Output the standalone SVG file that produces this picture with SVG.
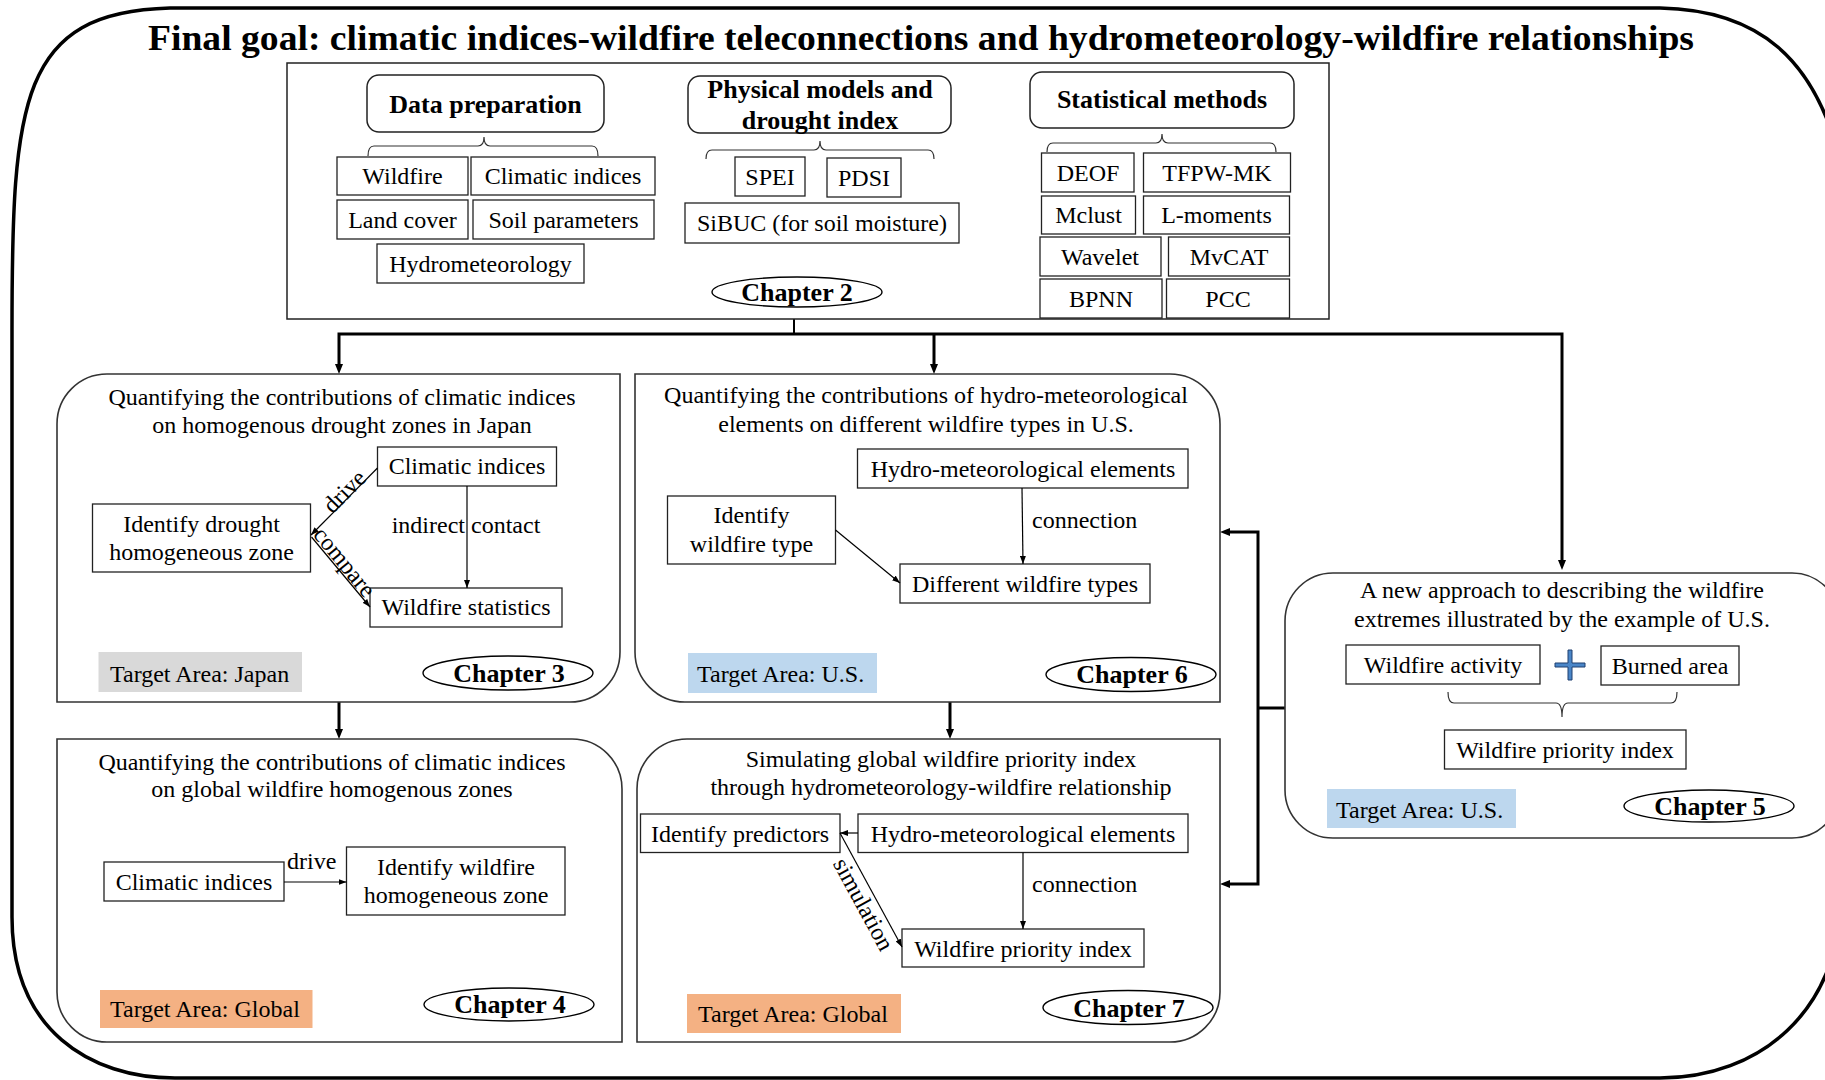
<svg xmlns="http://www.w3.org/2000/svg" width="1825" height="1080" viewBox="0 0 1825 1080">
<style>
text{font-family:'Liberation Serif','Times New Roman',serif;font-size:24px;fill:#000}
.m{text-anchor:middle}
.b{font-weight:bold;font-size:26px}
.bx{fill:#fff;stroke:#222;stroke-width:1.3}
.hd{fill:#fff;stroke:#222;stroke-width:1.5}
.ch{fill:#fff;stroke:#333;stroke-width:1.6}
.el{fill:#fff;stroke:#000;stroke-width:1.4}
.thick{fill:none;stroke:#000;stroke-width:3}
.thin{fill:none;stroke:#000;stroke-width:1.2}
.br{fill:none;stroke:#333;stroke-width:1.2}
</style>
<defs>
<marker id="ah" viewBox="0 0 10 8" refX="5" refY="4" markerWidth="10" markerHeight="8" markerUnits="userSpaceOnUse" orient="auto-start-reverse"><path d="M0,0 L10,4 L0,8 Z" fill="#000"/></marker>
<marker id="at" viewBox="0 0 8 6" refX="8" refY="3" markerWidth="8" markerHeight="6" markerUnits="userSpaceOnUse" orient="auto"><path d="M0,0 L8,3 L0,6 Z" fill="#000"/></marker>
</defs>
<rect width="1825" height="1080" fill="#fff"/>
<path d="M170,8 L1660,8 C1760,10 1815,60 1840,160 L1840,900 C1840,1010 1760,1078 1660,1078 L175,1078 C90,1078 12,1030 12,917 L12,330 C12,100 20,12 170,8 Z" fill="none" stroke="#000" stroke-width="3.5"/>
<text id="title" class="b m" x="921" y="50" style="font-size:36px" textLength="1546" lengthAdjust="spacingAndGlyphs">Final goal: climatic indices-wildfire teleconnections and hydrometeorology-wildfire relationships</text>

<g id="connectors">
<line class="thin" x1="794" y1="319" x2="794" y2="334" style="stroke-width:2"/>
<path class="thick" d="M339,369 V334 H1562 V565" marker-start="url(#ah)" marker-end="url(#ah)"/>
<path class="thick" d="M934,334 V369" marker-end="url(#ah)"/>
<path class="thick" d="M339,702 V734" marker-end="url(#ah)"/>
<path class="thick" d="M950,702 V734" marker-end="url(#ah)"/>
<path class="thick" d="M1225,532 H1258 V884 H1225" marker-start="url(#ah)" marker-end="url(#ah)"/>
<path class="thick" d="M1258,708 H1285"/>
</g>

<g id="chapter2">
<rect x="287" y="63" width="1042" height="256" fill="#fff" stroke="#222" stroke-width="1.5"/>
<rect class="hd" x="367" y="75" width="237" height="57" rx="12"/>
<text class="b m" x="485.5" y="113">Data preparation</text>
<rect class="hd" x="688" y="76" width="263" height="57" rx="12"/>
<text class="b m" x="820" y="98">Physical models and</text>
<text class="b m" x="820" y="129">drought index</text>
<rect class="hd" x="1030" y="72" width="264" height="56" rx="12"/>
<text class="b m" x="1162" y="108">Statistical methods</text>
<path class="br" d="M368,156 Q368,146 374,146 H478 Q484,146 484,137 Q484,146 490,146 H592 Q598,146 598,156"/>
<path class="br" d="M706,159 Q706,150 712,150 H814 Q820,150 820,141 Q820,150 826,150 H928 Q934,150 934,159"/>
<path class="br" d="M1047,152 Q1047,143 1053,143 H1156 Q1162,143 1162,134 Q1162,143 1168,143 H1270 Q1276,143 1276,152"/>
<rect class="bx" x="337" y="157" width="131" height="38"/><text class="m" x="402.5" y="184">Wildfire</text>
<rect class="bx" x="471" y="157" width="184" height="38"/><text class="m" x="563" y="184">Climatic indices</text>
<rect class="bx" x="337" y="200" width="131" height="39"/><text class="m" x="402.5" y="228">Land cover</text>
<rect class="bx" x="473" y="200" width="181" height="39"/><text class="m" x="563.5" y="228">Soil parameters</text>
<rect class="bx" x="377" y="244" width="207" height="39"/><text class="m" x="480.5" y="272">Hydrometeorology</text>
<rect class="bx" x="735" y="157" width="70" height="39"/><text class="m" x="770" y="185">SPEI</text>
<rect class="bx" x="827" y="158" width="74" height="39"/><text class="m" x="864" y="186">PDSI</text>
<rect class="bx" x="685" y="203" width="274" height="40"/><text class="m" x="822" y="231">SiBUC (for soil moisture)</text>
<rect class="bx" x="1041.5" y="153" width="92.5" height="39"/><text class="m" x="1088" y="181">DEOF</text>
<rect class="bx" x="1143.5" y="153" width="147" height="39"/><text class="m" x="1217" y="181">TFPW-MK</text>
<rect class="bx" x="1041.5" y="196" width="94" height="38"/><text class="m" x="1088.5" y="223">Mclust</text>
<rect class="bx" x="1143.5" y="196" width="146" height="38"/><text class="m" x="1216.5" y="223">L-moments</text>
<rect class="bx" x="1040" y="237" width="121" height="39"/><text class="m" x="1100" y="265">Wavelet</text>
<rect class="bx" x="1168.5" y="237" width="121" height="39"/><text class="m" x="1229" y="265">MvCAT</text>
<rect class="bx" x="1040" y="279" width="122" height="39"/><text class="m" x="1101" y="307">BPNN</text>
<rect class="bx" x="1166.5" y="279" width="123" height="39"/><text class="m" x="1228" y="307">PCC</text>
<ellipse class="el" cx="797" cy="292" rx="85" ry="15"/>
<text class="b m" x="797" y="301">Chapter 2</text>
</g>

<g id="chapter3">
<path class="ch" d="M107,374 H620 V652 A50,50 0 0 1 570,702 H57 V424 A50,50 0 0 1 107,374 Z"/>
<text class="m" x="342" y="405">Quantifying the contributions of climatic indices</text>
<text class="m" x="342" y="433">on homogenous drought zones in Japan</text>
<rect class="bx" x="377.5" y="447" width="179" height="39"/><text class="m" x="467" y="474">Climatic indices</text>
<rect class="bx" x="92.5" y="504" width="218" height="68"/>
<text class="m" x="201.5" y="532">Identify drought</text>
<text class="m" x="201.5" y="560">homogeneous zone</text>
<rect class="bx" x="370" y="588" width="192" height="39"/><text class="m" x="466" y="615">Wildfire statistics</text>
<text class="m" x="466" y="533">indirect contact</text>
<line class="thin" x1="467" y1="486" x2="467" y2="588" marker-end="url(#at)"/>
<line class="thin" x1="377.5" y1="468" x2="311" y2="535" marker-end="url(#at)"/>
<line class="thin" x1="311.5" y1="537" x2="370" y2="607" marker-end="url(#at)"/>
<text class="m" transform="translate(350,497) rotate(-45)">drive</text>
<text class="m" transform="translate(338.5,567) rotate(50.7)">compare</text>
<rect x="98.5" y="652" width="203.5" height="40" fill="#d9d9d9"/>
<text x="110" y="682">Target Area: Japan</text>
<ellipse class="el" cx="508" cy="673" rx="85" ry="17"/>
<text class="b m" x="509" y="682">Chapter 3</text>
</g>

<g id="chapter6">
<path class="ch" d="M635,374 H1170 A50,50 0 0 1 1220,424 V702 H685 A50,50 0 0 1 635,652 Z"/>
<text class="m" x="926" y="403">Quantifying the contributions of hydro-meteorological</text>
<text class="m" x="926" y="432">elements on different wildfire types in U.S.</text>
<rect class="bx" x="857.5" y="449" width="330.5" height="39"/><text class="m" x="1023" y="477">Hydro-meteorological elements</text>
<rect class="bx" x="667.5" y="496" width="168" height="68"/>
<text class="m" x="751.5" y="523">Identify</text>
<text class="m" x="751.5" y="552">wildfire type</text>
<rect class="bx" x="900" y="564" width="250" height="39"/><text class="m" x="1025" y="592">Different wildfire types</text>
<line class="thin" x1="1022" y1="488" x2="1023" y2="564" marker-end="url(#at)"/>
<text x="1032" y="528">connection</text>
<line class="thin" x1="835.5" y1="530" x2="900" y2="583" marker-end="url(#at)"/>
<rect x="688" y="653" width="189" height="40" fill="#bdd7ee"/>
<text x="697" y="682">Target Area: U.S.</text>
<ellipse class="el" cx="1131" cy="674.5" rx="85" ry="17"/>
<text class="b m" x="1132" y="683">Chapter 6</text>
</g>

<g id="chapter5">
<rect class="ch" x="1285" y="573" width="555" height="265" rx="48"/>
<text class="m" x="1562" y="598">A new approach to describing the wildfire</text>
<text class="m" x="1562" y="627">extremes illustrated by the example of U.S.</text>
<rect class="bx" x="1346" y="645" width="194" height="39"/><text class="m" x="1443" y="673">Wildfire activity</text>
<path d="M1568,650 H1572 V663 H1585 V667 H1572 V680 H1568 V667 H1555 V663 H1568 Z" fill="#4a86c8" stroke="#1f3f6e" stroke-width="1"/>
<rect class="bx" x="1601" y="646" width="138" height="39"/><text class="m" x="1670" y="674">Burned area</text>
<path class="br" d="M1448,692 Q1448,703 1454,703 H1556 Q1562,703 1562,717 Q1562,703 1568,703 H1671 Q1677,703 1677,692"/>
<rect class="bx" x="1444.5" y="730" width="241.5" height="39"/><text class="m" x="1565" y="758">Wildfire priority index</text>
<rect x="1327" y="789" width="189" height="39" fill="#bdd7ee"/>
<text x="1336" y="818">Target Area: U.S.</text>
<ellipse class="el" cx="1709" cy="806" rx="85" ry="16"/>
<text class="b m" x="1710" y="815">Chapter 5</text>
</g>

<g id="chapter4">
<path class="ch" d="M57,739 H572 A50,50 0 0 1 622,789 V1042 H107 A50,50 0 0 1 57,992 Z"/>
<text class="m" x="332" y="770">Quantifying the contributions of climatic indices</text>
<text class="m" x="332" y="797">on global wildfire homogenous zones</text>
<rect class="bx" x="104" y="862" width="180" height="39"/><text class="m" x="194" y="890">Climatic indices</text>
<rect class="bx" x="346.5" y="847" width="218.5" height="68"/>
<text class="m" x="456" y="875">Identify wildfire</text>
<text class="m" x="456" y="903">homogeneous zone</text>
<line class="thin" x1="284" y1="882" x2="346.5" y2="882" marker-end="url(#at)"/>
<text x="287" y="869">drive</text>
<rect x="100" y="990" width="212.5" height="38" fill="#f4b183"/>
<text x="110" y="1017">Target Area: Global</text>
<ellipse class="el" cx="509" cy="1004.5" rx="85" ry="16.5"/>
<text class="b m" x="510" y="1013">Chapter 4</text>
</g>

<g id="chapter7">
<path class="ch" d="M687,739 H1220 V992 A50,50 0 0 1 1170,1042 H637 V789 A50,50 0 0 1 687,739 Z"/>
<text class="m" x="941" y="767">Simulating global wildfire priority index</text>
<text class="m" x="941" y="795">through hydrometeorology-wildfire relationship</text>
<rect class="bx" x="640.5" y="814" width="199.5" height="38.5"/><text class="m" x="740" y="842">Identify predictors</text>
<rect class="bx" x="858" y="814" width="330" height="38.5"/><text class="m" x="1023" y="842">Hydro-meteorological elements</text>
<rect class="bx" x="902" y="929" width="242" height="38"/><text class="m" x="1023" y="957">Wildfire priority index</text>
<line class="thin" x1="858" y1="833" x2="840" y2="833" marker-end="url(#at)"/>
<line class="thin" x1="1023" y1="852.5" x2="1023" y2="929" marker-end="url(#at)"/>
<text x="1032" y="892">connection</text>
<line class="thin" x1="840" y1="833" x2="902" y2="947" marker-end="url(#at)"/>
<text class="m" transform="translate(856.6,908) rotate(61.5)">simulation</text>
<rect x="687" y="994" width="214" height="39" fill="#f4b183"/>
<text x="698" y="1022">Target Area: Global</text>
<ellipse class="el" cx="1128" cy="1007.5" rx="85" ry="17"/>
<text class="b m" x="1129" y="1017">Chapter 7</text>
</g>
</svg>
